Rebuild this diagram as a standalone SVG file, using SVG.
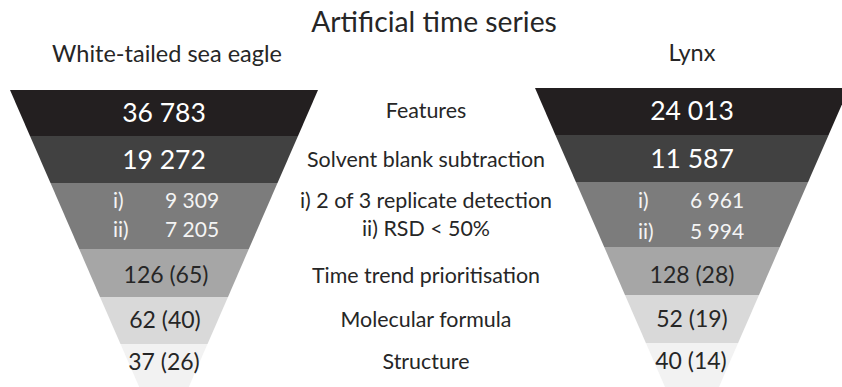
<svg xmlns="http://www.w3.org/2000/svg" width="842" height="387" viewBox="0 0 842 387">
<style>
text{font-family:Lato,"Liberation Sans",sans-serif;}
.ttl{font-size:28.3px;fill:#262626;text-anchor:middle;}
.sub{font-size:23.5px;fill:#262626;text-anchor:middle;}
.lbl{font-size:21.4px;fill:#262626;text-anchor:middle;}
.big{font-size:26.5px;fill:#ffffff;text-anchor:middle;}
.mid{font-size:21px;fill:#f4f4f4;}
.low{font-size:23px;fill:#262626;text-anchor:middle;}
.b1{fill:#231f20;}
.b2{fill:#414141;}
.b3{fill:#7c7c7c;}
.b4{fill:#a6a6a6;}
.b5{fill:#d9d9d9;}
.b6{fill:#f2f2f2;}
</style>
<rect width="842" height="387" fill="#ffffff"/>
<g id="titles">
<text class="ttl" x="434" y="32">Artificial time series</text>
<text class="sub" x="167" y="62">White-tailed sea eagle</text>
<text class="sub" x="692" y="61">Lynx</text>
</g>
<g id="eagle-features"><polygon class="b1" points="10,90 318,90 298,136 30,136"/><text class="big" x="164" y="122">36 783</text></g>
<g id="eagle-blank"><polygon class="b2" points="30,136 298,136 277.5,183 50.5,183"/><text class="big" x="164" y="169">19 272</text></g>
<g id="eagle-replicate"><polygon class="b3" points="50.5,183 277.5,183 248.8,249 79.2,249"/><text class="mid" x="113" y="208">i)</text><text class="mid" x="165" y="208">9 309</text><text class="mid" x="113" y="237">ii)</text><text class="mid" x="165" y="237">7 205</text></g>
<g id="eagle-trend"><polygon class="b4" points="79.2,249 248.8,249 228,297 100,297"/><text class="low" x="166" y="283">126 (65)</text></g>
<g id="eagle-formula"><polygon class="b5" points="100,297 228,297 207.5,344 120.5,344"/><text class="low" x="165" y="328">62 (40)</text></g>
<g id="eagle-structure"><polygon class="b6" points="120.5,344 207.5,344 188.8,387 139.2,387"/><text class="low" x="164" y="370">37 (26)</text></g>
<g id="steps">
<text class="lbl" x="426" y="118">Features</text>
<text class="lbl" x="426" y="167">Solvent blank subtraction</text>
<text class="lbl" x="426" y="208">i) 2 of 3 replicate detection</text>
<text class="lbl" x="426" y="236">ii) RSD &lt; 50%</text>
<text class="lbl" x="426" y="283">Time trend prioritisation</text>
<text class="lbl" x="426" y="327">Molecular formula</text>
<text class="lbl" x="426" y="369">Structure</text>
</g>
<g id="lynx-features"><polygon class="b1" points="535,88 849,88 828.6,135 555.4,135"/><text class="big" x="692" y="120">24 013</text></g>
<g id="lynx-blank"><polygon class="b2" points="555.4,135 828.6,135 808.1,182 575.9,182"/><text class="big" x="692" y="168">11 587</text></g>
<g id="lynx-replicate"><polygon class="b3" points="575.9,182 808.1,182 779.8,247 604.2,247"/><text class="mid" x="638" y="208">i)</text><text class="mid" x="690" y="208">6 961</text><text class="mid" x="638" y="239">ii)</text><text class="mid" x="690" y="239">5 994</text></g>
<g id="lynx-trend"><polygon class="b4" points="604.2,247 779.8,247 759,295 625,295"/><text class="low" x="692" y="283">128 (28)</text></g>
<g id="lynx-formula"><polygon class="b5" points="625,295 759,295 738.1,343 645.9,343"/><text class="low" x="692" y="327">52 (19)</text></g>
<g id="lynx-structure"><polygon class="b6" points="645.9,343 738.1,343 719,387 665,387"/><text class="low" x="691" y="369">40 (14)</text></g>
</svg>
